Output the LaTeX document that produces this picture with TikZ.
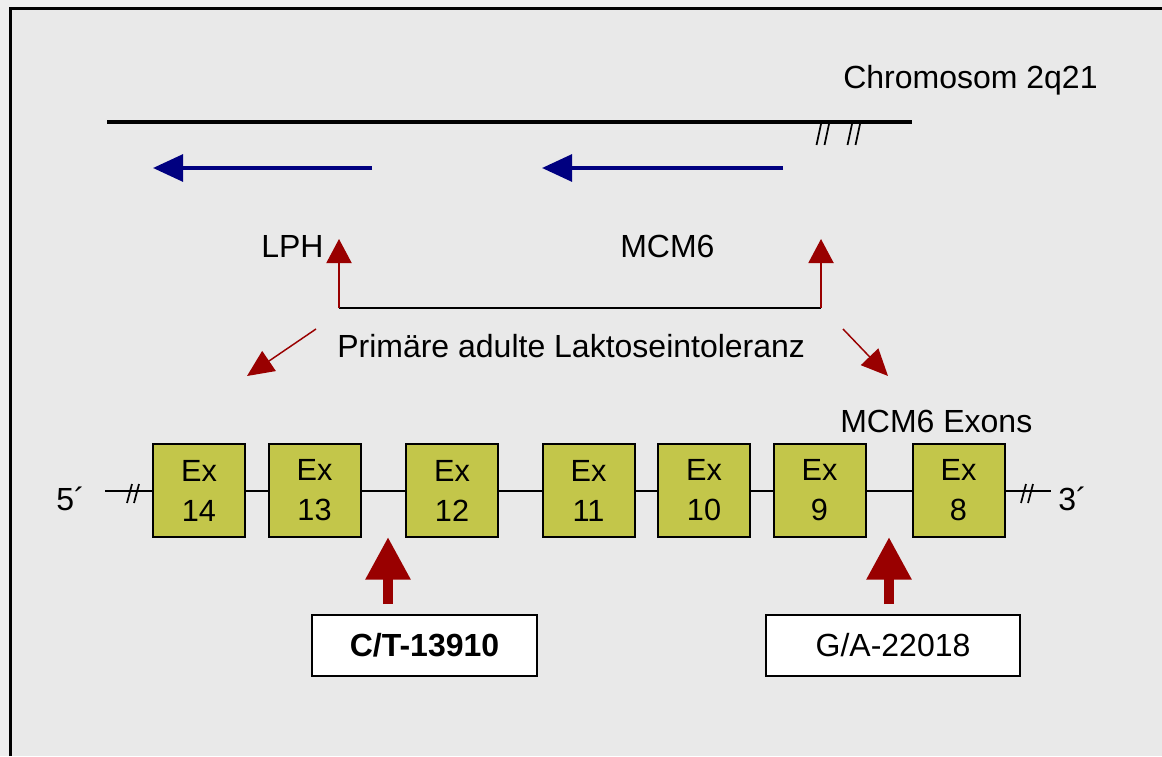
\documentclass[tikz,border=0pt]{standalone}
\usepackage{fontspec}
\setmainfont{Liberation Sans}
\usetikzlibrary{arrows.meta}
\definecolor{bgout}{HTML}{EEEEEE}
\definecolor{bgin}{HTML}{E9E9E9}
\definecolor{darkred}{HTML}{990000}
\definecolor{navyblue}{HTML}{000080}
\definecolor{exonfill}{HTML}{C3C64A}
\tikzset{
  txt/.style={font=\fontsize{24}{30}\selectfont, inner sep=0pt},
  exon/.style={draw=black, line width=1.5pt, fill=exonfill, minimum width=69pt, minimum height=69.75pt,
    inner sep=0pt, align=center, font=\fontsize{23}{30}\selectfont},
  mutbox/.style={draw=black, line width=1.5pt, fill=white, minimum height=45.75pt, inner sep=0pt,
    font=\fontsize{24}{30}\selectfont},
  chromline/.style={line width=3pt, black},
  thinline/.style={line width=1.5pt, black},
  bluearrow/.style={line width=3pt, navyblue, -{Triangle[length=22.5pt, width=20pt]}},
  redup/.style={line width=1.5pt, darkred, -{Triangle[length=18pt, width=18.75pt]}},
  reddiag/.style={line width=1.1pt, darkred, -{Triangle[length=20pt, width=18pt]}},
  bigarrow/.style={line width=7.5pt, darkred, -{Triangle[length=32pt, width=32pt]}},
  breakmark/.style={line width=1.3pt, black},
}
\begin{document}
\begin{tikzpicture}[x=0.75pt, y=-0.75pt]
\useasboundingbox (0,0) rectangle (1162,756);
% background and frame
\fill[bgout] (0,0) rectangle (1162,756);
\fill[bgin] (10,8) rectangle (1162,756);
\draw[line width=2.25pt, black] (10.5,756) -- (10.5,8.5) -- (1162,8.5);

% chromosome
\coordinate (c1) at (107,122);
\coordinate (c2) at (912,122);
\draw[chromline] (c1) -- (c2);
\node[txt, anchor=base west] (chrom) at (843,89) {Chromosom 2q21};
% break marks
\foreach \bx in {821,829,852,860}{
  \draw[breakmark] (\bx,124) -- (\bx-4.5,145);
}

% blue gene arrows
\coordinate (b1s) at (372,168);
\coordinate (b1e) at (153,168);
\coordinate (b2s) at (783,168);
\coordinate (b2e) at (542,168);
\draw[bluearrow] (b1s) -- (b1e);
\draw[bluearrow] (b2s) -- (b2e);

% gene labels
\node[txt, anchor=base west] (lph) at (261,257) {LPH};
\node[txt, anchor=base west] (mcm) at (620,257) {MCM6};

% red up arrows and connecting line
\coordinate (r1b) at (339,308);
\coordinate (r1t) at (339,239);
\coordinate (r2b) at (821,308);
\coordinate (r2t) at (821,239);
\draw[thinline] (r1b) -- (r2b);
\draw[redup] (r1b) -- (r1t);
\draw[redup] (r2b) -- (r2t);

% disease label and diagonal arrows
\node[txt, anchor=base west] (pal) at (337,357) {Primäre adulte Laktoseintoleranz};
\coordinate (d1s) at (316,329);
\coordinate (d1e) at (247,376);
\coordinate (d2s) at (843,329);
\coordinate (d2e) at (888,376);
\draw[reddiag] (d1s) -- (d1e);
\draw[reddiag] (d2s) -- (d2e);

\node[txt, anchor=base west] (exlab) at (840,432) {MCM6 Exons};

% exons
\node[exon] (e14) at (199,490.5) {Ex\\14};
\node[exon] (e13) at (314.5,490.5) {Ex\\13};
\node[exon] (e12) at (452,490.5) {Ex\\12};
\node[exon] (e11) at (588.5,490.5) {Ex\\11};
\node[exon] (e10) at (704,490.5) {Ex\\10};
\node[exon] (e9) at (819.5,490.5) {Ex\\9};
\node[exon] (e8) at (958.5,490.5) {Ex\\8};
\draw[thinline] (e14) -- (e13);
\draw[thinline] (e13) -- (e12);
\draw[thinline] (e12) -- (e11);
\draw[thinline] (e11) -- (e10);
\draw[thinline] (e10) -- (e9);
\draw[thinline] (e9) -- (e8);

% ends
\node[txt, anchor=base west] (p5) at (56,510) {5´};
\node[txt, anchor=base west] (p3) at (1058,510) {3´};
\coordinate (l5) at (105,490.5);
\coordinate (l3) at (1051,490.5);
\draw[thinline] (l5) -- (e14.west);
\draw[thinline] (e8.east) -- (l3);
\foreach \bx in {132,139,1026,1033}{
  \draw[breakmark] (\bx,484) -- (\bx-5,503);
}

% mutation boxes
\node[mutbox, minimum width=168.75pt] (ct) at (424.5,645.5) {\bfseries C/T-13910};
\node[mutbox, minimum width=190.5pt] (ga) at (893,645.5) {G/A-22018};
\coordinate (m1b) at (388,604);
\coordinate (m1t) at (388,537);
\coordinate (m2b) at (889,604);
\coordinate (m2t) at (889,537);
\draw[bigarrow] (m1b) -- (m1t);
\draw[bigarrow] (m2b) -- (m2t);
\end{tikzpicture}
\end{document}
